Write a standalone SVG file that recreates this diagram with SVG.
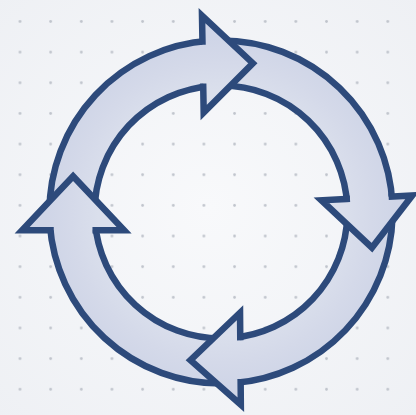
<svg xmlns="http://www.w3.org/2000/svg" width="416" height="415" viewBox="0 0 416 415">
  <defs>
    <pattern id="dots" x="4.675" y="6.175" width="30.65" height="30.65" patternUnits="userSpaceOnUse">
      <circle cx="15.325" cy="15.325" r="1.4" fill="#c0c4cc"/>
    </pattern>
    <radialGradient id="bg" cx="208" cy="207" r="300" gradientUnits="userSpaceOnUse">
      <stop offset="0" stop-color="#f8f9fb"/>
      <stop offset="1" stop-color="#eef0f4"/>
    </radialGradient>
    <radialGradient id="ringFill" cx="221" cy="212" r="175" gradientUnits="userSpaceOnUse">
      <stop offset="0.7" stop-color="#dadfec"/>
      <stop offset="0.86" stop-color="#d4d9e9"/>
      <stop offset="1" stop-color="#cfd5e7"/>
    </radialGradient>
  </defs>
  <style>
    .body { fill: url(#ringFill); stroke: #2d4a7b; stroke-width: 6.5; stroke-linejoin: miter; }
    .head { fill: url(#ringFill); stroke: #2d4a7b; stroke-width: 6.5; stroke-linejoin: miter; stroke-miterlimit: 10; stroke-linecap: square; }
  </style>

  <rect x="0" y="0" width="416" height="415" fill="url(#bg)"/>
  <rect x="0" y="0" width="416" height="415" fill="url(#dots)"/>

  <g id="arrow-bodies">
    <path id="body-top" class="body" d="M 49.4 212 A 171.6 171.6 0 0 1 209.03 40.82 L 212.18 85.91 A 126.4 126.4 0 0 0 94.6 212 Z"/>
    <path id="body-right" class="body" d="M 221 40.4 A 171.6 171.6 0 0 1 392.44 204.51 L 347.28 206.49 A 126.4 126.4 0 0 0 221 85.6 Z"/>
    <path id="body-bottom" class="body" d="M 392.54 216.49 A 171.6 171.6 0 0 1 234.46 383.07 L 230.92 338.01 A 126.4 126.4 0 0 0 347.36 215.31 Z"/>
    <path id="body-left" class="body" d="M 222.5 383.59 A 171.6 171.6 0 0 1 49.82 223.97 L 94.91 220.82 A 126.4 126.4 0 0 0 222.1 338.39 Z"/>
  </g>

  <g id="arrow-heads">
    <path id="head-top" class="head" d="M 203.23 86.71 L 203.69 112.6 L 252.83 63.24 L 201.99 15.62 L 202.45 41.51"/>
    <path id="head-right" class="head" d="M 346.74 198.9 L 321.38 200.23 L 371.93 247.65 L 412.25 195.47 L 391.88 196.54"/>
    <path id="head-bottom" class="head" d="M 240.25 337.12 L 240.04 312.72 L 190.45 360.16 L 240.84 404.72 L 240.65 382.32"/>
    <path id="head-left" class="head" d="M 95.71 230.16 L 124.11 230.16 L 73.11 176.16 L 22.11 230.16 L 50.51 230.16"/>
  </g>
</svg>
